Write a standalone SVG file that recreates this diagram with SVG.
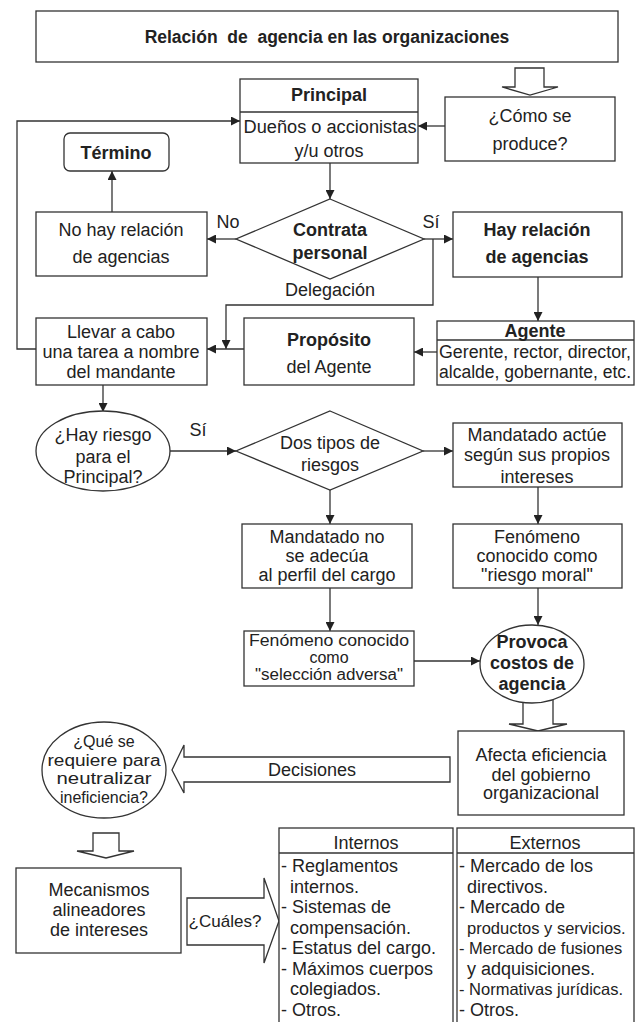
<svg xmlns="http://www.w3.org/2000/svg" width="635" height="1022" viewBox="0 0 635 1022">
<defs>
<marker id="ah" viewBox="0 0 10 10" refX="10" refY="5" markerWidth="9" markerHeight="9" markerUnits="userSpaceOnUse" orient="auto">
<path d="M0,0 L10,5 L0,10 z" fill="#222"/>
</marker>
<style>
.box{fill:#fff;stroke:#333;stroke-width:1.3}
.ln{fill:none;stroke:#333;stroke-width:1.3}
.arr{marker-end:url(#ah)}
.blk{fill:#fff;stroke:#333;stroke-width:1.3;stroke-linejoin:miter}
.t{font-family:"Liberation Sans",Arial,sans-serif;font-size:18px;fill:#222;text-anchor:middle}
.b{font-weight:bold}
.l{text-anchor:start}
.s{font-size:16px}
.m{font-size:16.5px}
</style>
</defs>
<rect width="635" height="1022" fill="#fff"/>

<g id="connectors">
<polygon class="blk" points="515,68 544,68 544,87 558,87 530,95 502,87 515,87"/>
<path class="ln arr" d="M36,349 L17,349 L17,121 L240,121"/>
<path class="ln arr" d="M445,126 L418,126"/>
<path class="ln arr" d="M330,163 L330,199"/>
<path class="ln arr" d="M236,239 L207,239"/>
<path class="ln arr" d="M112,212 L112,171"/>
<path class="ln arr" d="M424,239 L453,239"/>
<path class="ln arr" d="M433,239 L433,305 L226,305 L226,349"/>
<path class="ln arr" d="M538,277 L538,321"/>
<path class="ln arr" d="M437,352 L414,352"/>
<path class="ln arr" d="M244,349 L207,349"/>
<path class="ln arr" d="M103,385 L103,412"/>
<path class="ln arr" d="M170,451 L236,451"/>
<path class="ln arr" d="M423,451 L453,451"/>
<path class="ln arr" d="M330,490 L330,524"/>
<path class="ln arr" d="M538,487 L538,524"/>
<path class="ln arr" d="M330,588 L330,631"/>
<path class="ln arr" d="M538,588 L538,625"/>
<path class="ln arr" d="M414,661 L480,661"/>
<polygon class="blk" points="523,698 553,698 553,724 567,724 538,731 509,724 523,724"/>
<polygon class="blk" points="450,757 450,782 184,782 184,793 172,770 184,745 184,757"/>
<polygon class="blk" points="93,833 119,833 119,851 134,851 106,858 77,851 93,851"/>
<polygon class="blk" points="187,898 264,898 264,878 279,921 264,963 264,945 187,945"/>
<text class="t" x="312" y="776">Decisiones</text>
<text class="t" x="225" y="927" style="font-size:17px">¿Cuáles?</text>
<text class="t" x="228" y="228">No</text>
<text class="t" x="431" y="228">Sí</text>
<text class="t" x="330" y="296">Delegación</text>
<text class="t" x="198" y="436">Sí</text>
</g>

<g id="title">
<rect class="box" x="36" y="11" width="582" height="51"/>
<text class="t b" x="327" y="43" style="font-size:17.5px" xml:space="preserve">Relación  de  agencia en las organizaciones</text>
</g>

<g id="principal">
<rect class="box" x="240" y="79" width="178" height="84"/>
<line class="ln" x1="240" y1="112" x2="418" y2="112"/>
<text class="t b" x="329" y="101">Principal</text>
<text class="t" x="330" y="133" textLength="173" lengthAdjust="spacingAndGlyphs">Dueños o accionistas</text>
<text class="t" x="329" y="157">y/u otros</text>
</g>

<g id="como">
<rect class="box" x="445" y="97" width="170" height="64"/>
<text class="t" x="530" y="122">¿Cómo se</text>
<text class="t" x="530" y="150">produce?</text>
</g>

<g id="termino">
<rect class="box" x="64" y="133" width="105" height="38" rx="6"/>
<text class="t b" x="116" y="159">Término</text>
</g>

<g id="contrata">
<polygon class="box" points="330,199 424,239 330,279 236,239"/>
<text class="t b" x="330" y="236">Contrata</text>
<text class="t b" x="330" y="259">personal</text>
</g>

<g id="nohay">
<rect class="box" x="36" y="212" width="171" height="64"/>
<text class="t" x="121" y="236">No hay relación</text>
<text class="t" x="121" y="263">de agencias</text>
</g>

<g id="hay">
<rect class="box" x="453" y="212" width="169" height="65"/>
<text class="t b" x="537" y="236">Hay relación</text>
<text class="t b" x="537" y="263">de agencias</text>
</g>

<g id="llevar">
<rect class="box" x="36" y="318" width="171" height="67"/>
<text class="t" x="121" y="338">Llevar a cabo</text>
<text class="t" x="121" y="358">una tarea a nombre</text>
<text class="t" x="121" y="378">del mandante</text>
</g>

<g id="proposito">
<rect class="box" x="244" y="318" width="170" height="67"/>
<text class="t b" x="329" y="346">Propósito</text>
<text class="t" x="329" y="373">del Agente</text>
</g>

<g id="agente">
<rect class="box" x="437" y="321" width="197" height="64"/>
<line class="ln" x1="437" y1="340" x2="634" y2="340"/>
<text class="t b" x="535" y="337">Agente</text>
<text class="t" x="535" y="358" textLength="192" lengthAdjust="spacingAndGlyphs">Gerente, rector, director,</text>
<text class="t" x="535" y="378" textLength="192" lengthAdjust="spacingAndGlyphs">alcalde, gobernante, etc.</text>
</g>

<g id="riesgo">
<ellipse class="box" cx="103" cy="451" rx="67" ry="40"/>
<text class="t" x="103" y="441">¿Hay riesgo</text>
<text class="t" x="103" y="463">para el</text>
<text class="t" x="103" y="483">Principal?</text>
</g>

<g id="dostipos">
<polygon class="box" points="330,411 423,451 330,490 236,451"/>
<text class="t" x="330" y="449">Dos tipos de</text>
<text class="t" x="330" y="471">riesgos</text>
</g>

<g id="actue">
<rect class="box" x="453" y="423" width="169" height="64"/>
<text class="t" x="537" y="441">Mandatado actúe</text>
<text class="t" x="537" y="461">según sus propios</text>
<text class="t" x="537" y="483">intereses</text>
</g>

<g id="noadecua">
<rect class="box" x="242" y="524" width="170" height="64"/>
<text class="t" x="327" y="543">Mandatado no</text>
<text class="t" x="327" y="562">se adecúa</text>
<text class="t" x="327" y="581">al perfil del cargo</text>
</g>

<g id="moral">
<rect class="box" x="453" y="524" width="169" height="64"/>
<text class="t" x="537" y="543">Fenómeno</text>
<text class="t" x="537" y="562">conocido como</text>
<text class="t" x="537" y="581">"riesgo moral"</text>
</g>

<g id="seleccion">
<rect class="box" x="244" y="631" width="170" height="55"/>
<text class="t s" x="329" y="646" textLength="160" lengthAdjust="spacingAndGlyphs">Fenómeno conocido</text>
<text class="t s" x="329" y="663">como</text>
<text class="t s" x="329" y="680" textLength="148" lengthAdjust="spacingAndGlyphs">"selección adversa"</text>
</g>

<g id="provoca">
<ellipse class="box" cx="532" cy="664" rx="52" ry="39"/>
<text class="t b" x="532" y="648">Provoca</text>
<text class="t b" x="532" y="669">costos de</text>
<text class="t b" x="532" y="690">agencia</text>
</g>

<g id="afecta">
<rect class="box" x="458" y="731" width="166" height="84"/>
<text class="t" x="541" y="761">Afecta eficiencia</text>
<text class="t" x="541" y="781">del gobierno</text>
<text class="t" x="541" y="799">organizacional</text>
</g>

<g id="neutralizar">
<ellipse class="box" cx="104" cy="770" rx="62" ry="48"/>
<text class="t s" x="104" y="747">¿Qué se</text>
<text class="t s" x="104" y="765.5" textLength="113" lengthAdjust="spacingAndGlyphs">requiere para</text>
<text class="t s" x="104" y="784" textLength="95" lengthAdjust="spacingAndGlyphs">neutralizar</text>
<text class="t s" x="104" y="802.5" textLength="88" lengthAdjust="spacingAndGlyphs">ineficiencia?</text>
</g>

<g id="mecanismos">
<rect class="box" x="16" y="868" width="165" height="85"/>
<text class="t" x="99" y="896">Mecanismos</text>
<text class="t" x="99" y="916">alineadores</text>
<text class="t" x="99" y="936">de intereses</text>
</g>

<g id="internos">
<rect class="box" x="279" y="828" width="174" height="210"/>
<line class="ln" x1="279" y1="853" x2="453" y2="853"/>
<text class="t" x="366" y="849">Internos</text>
<text class="t l" x="281" y="872">- Reglamentos</text>
<text class="t l" x="290" y="892.5">internos.</text>
<text class="t l" x="281" y="913">- Sistemas de</text>
<text class="t l" x="290" y="933.5">compensación.</text>
<text class="t l" x="281" y="954">- Estatus del cargo.</text>
<text class="t l" x="281" y="974.5">- Máximos cuerpos</text>
<text class="t l" x="290" y="995">colegiados.</text>
<text class="t l" x="281" y="1015.5">- Otros.</text>
</g>

<g id="externos">
<rect class="box" x="457" y="828" width="177" height="210"/>
<line class="ln" x1="457" y1="853" x2="634" y2="853"/>
<text class="t" x="545" y="849">Externos</text>
<text class="t l" x="459" y="872">- Mercado de los</text>
<text class="t l" x="467" y="892.5">directivos.</text>
<text class="t l" x="459" y="913">- Mercado de</text>
<text class="t l m" x="467" y="933.5">productos y servicios.</text>
<text class="t l m" x="459" y="954">- Mercado de fusiones</text>
<text class="t l" x="467" y="974.5">y adquisiciones.</text>
<text class="t l m" x="459" y="995">- Normativas jurídicas.</text>
<text class="t l" x="459" y="1015.5">- Otros.</text>
</g>
</svg>
